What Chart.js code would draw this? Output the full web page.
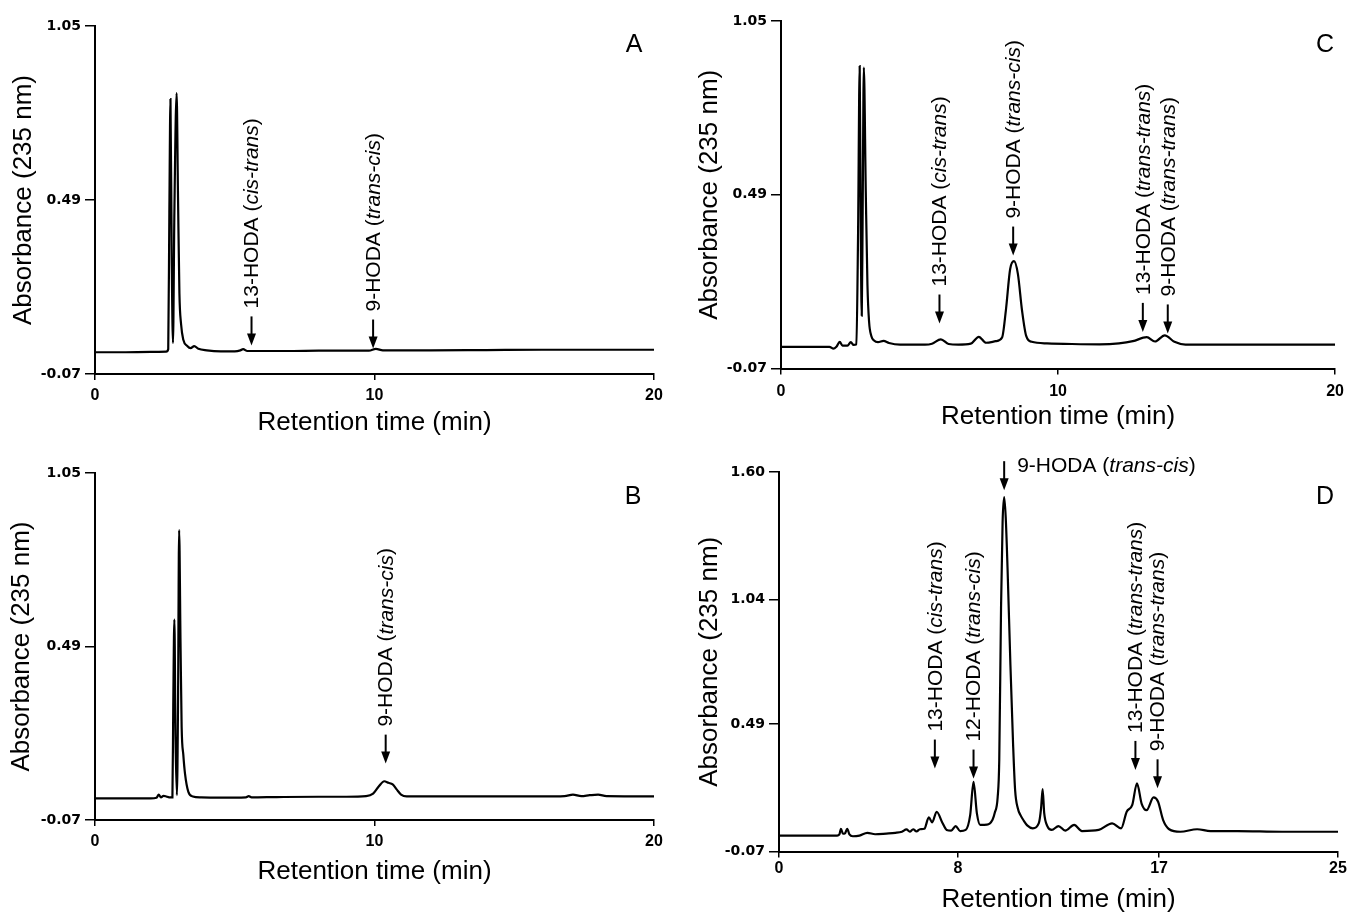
<!DOCTYPE html>
<html>
<head>
<meta charset="utf-8">
<script src="https://cdn.jsdelivr.net/npm/chart.js@4.4.1/dist/chart.umd.min.js"></script>
<style>
  body { margin: 0; background: #fff; width: 1351px; height: 913px; position: relative; overflow: hidden; }
  canvas { position: absolute; }
</style>
</head>
<body>
<canvas id="chartA" width="676" height="450" style="left:0px;top:0px"></canvas>
<canvas id="chartC" width="675" height="450" style="left:676px;top:0px"></canvas>
<canvas id="chartB" width="676" height="463" style="left:0px;top:450px"></canvas>
<canvas id="chartD" width="675" height="463" style="left:676px;top:450px"></canvas>
<script>
// retention time (min) / absorbance at 235 nm
const timeA = [0, 1.0, 2.0, 2.55, 2.62, 2.66, 2.70, 2.745, 2.79, 2.84, 2.92, 2.97, 3.02, 3.08, 3.16, 3.3, 3.42, 3.55, 3.7, 4.0, 4.5, 5.0, 5.2, 5.3, 5.45, 6.0, 7.0, 8.0, 9.0, 9.8, 10.05, 10.3, 12.0, 14.0, 16.0, 18.0, 20.0];
const absA  = [0, 0, 0.001, 0.002, 0.01, 0.45, 0.815, 0.3, 0.03, 0.45, 0.834, 0.5, 0.19, 0.09, 0.04, 0.02, 0.013, 0.02, 0.011, 0.006, 0.003, 0.003, 0.006, 0.01, 0.004, 0.004, 0.004, 0.005, 0.005, 0.005, 0.011, 0.006, 0.006, 0.007, 0.008, 0.008, 0.008];

const timeB = [0, 1.0, 2.0, 2.2, 2.28, 2.36, 2.45, 2.55, 2.65, 2.77, 2.8, 2.84, 2.88, 2.93, 2.97, 3.01, 3.06, 3.1, 3.16, 3.22, 3.34, 3.5, 3.8, 4.5, 5.4, 5.5, 5.6, 6.5, 8.0, 9.0, 9.7, 9.95, 10.15, 10.35, 10.5, 10.65, 10.8, 10.95, 11.15, 12.0, 14.0, 16.0, 16.8, 17.1, 17.4, 17.7, 18.0, 18.3, 20.0];
const absB  = [0, 0, 0, 0.002, 0.012, 0.003, 0.008, 0.006, 0.003, 0.003, 0.3, 0.577, 0.2, 0.01, 0.3, 0.866, 0.5, 0.23, 0.14, 0.08, 0.021, 0.006, 0.003, 0.002, 0.003, 0.007, 0.003, 0.004, 0.005, 0.005, 0.007, 0.015, 0.038, 0.055, 0.05, 0.045, 0.028, 0.012, 0.006, 0.006, 0.006, 0.006, 0.007, 0.012, 0.007, 0.01, 0.012, 0.007, 0.006];

const timeC = [0, 1.0, 1.75, 1.88, 2.0, 2.12, 2.22, 2.4, 2.52, 2.62, 2.72, 2.78, 2.84, 2.885, 2.915, 2.945, 2.99, 3.06, 3.12, 3.18, 3.26, 3.36, 3.5, 3.7, 3.9, 4.3, 4.8, 5.2, 5.45, 5.77, 6.05, 6.4, 6.85, 7.14, 7.4, 7.75, 7.98, 8.12, 8.27, 8.41, 8.55, 8.7, 8.85, 9.05, 9.6, 10.5, 11.5, 12.2, 12.7, 13.2, 13.5, 13.85, 14.2, 14.6, 16.0, 18.0, 20.0];
const absC  = [0, 0, 0, -0.006, 0, 0.016, 0.004, 0.004, 0.015, 0.006, 0.008, 0.35, 0.905, 0.3, 0.1, 0.4, 0.90, 0.5, 0.2, 0.08, 0.035, 0.02, 0.015, 0.019, 0.012, 0.007, 0.007, 0.007, 0.01, 0.024, 0.009, 0.007, 0.01, 0.032, 0.013, 0.018, 0.03, 0.12, 0.25, 0.276, 0.235, 0.117, 0.035, 0.016, 0.011, 0.009, 0.008, 0.011, 0.018, 0.031, 0.017, 0.037, 0.016, 0.007, 0.007, 0.007, 0.007];

const timeD = [0, 1.5, 2.6, 2.7, 2.77, 2.86, 2.95, 3.05, 3.15, 3.3, 3.6, 3.95, 4.3, 4.8, 5.2, 5.5, 5.7, 5.85, 6.0, 6.15, 6.3, 6.5, 6.7, 6.85, 7.05, 7.3, 7.5, 7.7, 7.9, 8.1, 8.35, 8.55, 8.7, 8.85, 9.0, 9.3, 9.55, 9.65, 9.78, 9.85, 9.93, 10.0, 10.07, 10.14, 10.22, 10.35, 10.47, 10.56, 10.68, 10.8, 10.95, 11.1, 11.35, 11.62, 11.72, 11.79, 11.86, 12.0, 12.2, 12.5, 12.8, 13.2, 13.55, 14.3, 14.9, 15.3, 15.55, 15.8, 16.01, 16.22, 16.44, 16.75, 16.95, 17.18, 17.45, 17.95, 18.7, 19.3, 20.5, 22.5, 25.0];
const absD  = [0, 0, 0, 0.005, 0.03, 0.008, 0.01, 0.03, 0.005, -0.003, 0, 0.012, 0.006, 0.009, 0.012, 0.017, 0.027, 0.017, 0.028, 0.018, 0.028, 0.03, 0.08, 0.058, 0.105, 0.058, 0.025, 0.022, 0.042, 0.02, 0.025, 0.09, 0.236, 0.098, 0.047, 0.048, 0.07, 0.10, 0.17, 0.33, 1.0, 1.38, 1.49, 1.40, 1.18, 0.75, 0.40, 0.2, 0.12, 0.09, 0.065, 0.045, 0.032, 0.055, 0.12, 0.205, 0.1, 0.042, 0.025, 0.042, 0.022, 0.047, 0.02, 0.025, 0.054, 0.032, 0.105, 0.135, 0.23, 0.14, 0.112, 0.168, 0.15, 0.068, 0.028, 0.017, 0.028, 0.02, 0.02, 0.017, 0.017];

// arrowed peak labels: time of arrow, absorbance at arrow tip, compound, isomer
const peakTimeA = [5.6, 9.95];
const peakTipA  = [0.022, 0.012];
const peakNameA = ['13-HODA', '9-HODA'];
const peakIsoA  = ['cis-trans', 'trans-cis'];

const peakTimeB = [10.4];
const peakTipB  = [0.112];
const peakNameB = ['9-HODA'];
const peakIsoB  = ['trans-cis'];

const peakTimeC = [5.72, 8.38, 13.06, 13.96];
const peakTipC  = [0.075, 0.294, 0.048, 0.043];
const peakNameC = ['13-HODA', '9-HODA', '13-HODA', '9-HODA'];
const peakIsoC  = ['cis-trans', 'trans-cis', 'trans-trans', 'trans-trans'];

const peakTimeD = [6.97, 8.7, 10.07, 15.94, 16.93];
const peakTipD  = [0.295, 0.251, 1.52, 0.289, 0.208];
const peakNameD = ['13-HODA', '12-HODA', '9-HODA', '13-HODA', '9-HODA'];
const peakIsoD  = ['cis-trans', 'trans-cis', 'trans-cis', 'trans-trans', 'trans-trans'];
const peakFlatD = [false, false, true, false, false];

// tick labels
const xTicks20 = [0, 10, 20];
const xTicksD  = [0, 8, 17, 25];
const yTicks105 = [-0.07, 0.49, 1.05];
const yTicksD   = [-0.07, 0.49, 1.04, 1.60];

const SANS = '"Liberation Sans", Arial, Helvetica, sans-serif';
Chart.defaults.color = '#000';

// arrows + rotated compound labels + panel letter
const peakLabels = {
  id: 'peakLabels',
  afterDatasetsDraw(chart, args, o) {
    const { ctx, scales: { x, y } } = chart;
    ctx.save();
    ctx.fillStyle = '#000';
    ctx.strokeStyle = '#000';
    o.times.forEach((t, i) => {
      const px = x.getPixelForValue(t);
      const tip = y.getPixelForValue(o.tips[i]);
      const tail = tip - 29;
      ctx.lineWidth = 2;
      ctx.beginPath();
      ctx.moveTo(px, tail);
      ctx.lineTo(px, tip - 9);
      ctx.stroke();
      ctx.beginPath();
      ctx.moveTo(px - 4.5, tip - 12);
      ctx.lineTo(px + 4.5, tip - 12);
      ctx.lineTo(px, tip);
      ctx.closePath();
      ctx.fill();

      const parts = [[o.names[i] + ' (', ''], [o.isos[i], 'italic '], [')', '']];
      ctx.textBaseline = 'middle';
      ctx.textAlign = 'left';
      ctx.save();
      if (o.flat && o.flat[i]) {
        ctx.translate(px + 13, tail + 5);
      } else {
        ctx.translate(px + 1, tail - 8);
        ctx.rotate(-Math.PI / 2);
      }
      let cx = 0;
      parts.forEach(([txt, style]) => {
        ctx.font = style + '21px ' + SANS;
        ctx.fillText(txt, cx, 0);
        cx += ctx.measureText(txt).width;
      });
      ctx.restore();
    });
    ctx.font = '25px ' + SANS;
    ctx.textAlign = 'center';
    ctx.textBaseline = 'middle';
    ctx.fillText(o.letter, o.letterX, o.letterY);
    ctx.restore();
  }
};

function drawPanel(id, time, abs, xMax, xTicks, yMax, yTicks, labels, box) {
  const points = time.map((t, i) => ({ x: t, y: abs[i] }));
  return new Chart(document.getElementById(id), {
    type: 'line',
    data: {
      datasets: [{
        data: points,
        borderColor: '#000',
        borderWidth: 2.2,
        pointRadius: 0,
        fill: false,
        cubicInterpolationMode: 'monotone'
      }]
    },
    options: {
      responsive: false,
      animation: false,
      layout: { padding: { left: 0, top: box.top, right: box.right, bottom: 0 } },
      plugins: {
        legend: { display: false },
        tooltip: { enabled: false },
        peakLabels: labels
      },
      scales: {
        x: {
          type: 'linear',
          min: 0,
          max: xMax,
          afterBuildTicks: s => { s.ticks = xTicks.map(v => ({ value: v })); },
          afterFit: s => { s.height = box.xHeight; },
          ticks: {
            autoSkip: false,
            maxRotation: 0,
            padding: box.xTickPad,
            font: { family: SANS, weight: 'bold', size: 16 },
            callback: v => String(v)
          },
          grid: { drawOnChartArea: false, drawTicks: true, tickLength: 6, color: '#000', lineWidth: 1.5 },
          border: { display: true, color: '#000', width: 2 },
          title: {
            display: true,
            text: 'Retention time (min)',
            font: { family: SANS, size: 26, lineHeight: 1 },
            padding: { top: 0, bottom: box.xTitlePad }
          }
        },
        y: {
          type: 'linear',
          min: -0.07,
          max: yMax,
          afterBuildTicks: s => { s.ticks = yTicks.map(v => ({ value: v })); },
          afterFit: s => { s.width = box.yWidth; },
          ticks: {
            autoSkip: false,
            padding: 4,
            font: { family: '"DejaVu Sans", sans-serif', weight: 'bold', size: 14 },
            callback: v => v.toFixed(2)
          },
          grid: { drawOnChartArea: false, drawTicks: true, tickLength: 10, color: '#000', lineWidth: 1.5 },
          border: { display: true, color: '#000', width: 2 },
          title: {
            display: true,
            text: 'Absorbance (235 nm)',
            font: { family: SANS, size: 26, lineHeight: 1 },
            padding: { top: box.yTitlePad, bottom: 0 }
          }
        }
      }
    },
    plugins: [peakLabels]
  });
}

drawPanel('chartA', timeA, absA, 20, xTicks20, 1.05, yTicks105,
  { times: peakTimeA, tips: peakTipA, names: peakNameA, isos: peakIsoA, letter: 'A', letterX: 634, letterY: 45 },
  { yWidth: 95, xHeight: 76, top: 26, right: 22, yTitlePad: 11, xTitlePad: 14.5, xTickPad: 6 });

drawPanel('chartC', timeC, absC, 20, xTicks20, 1.05, yTicks105,
  { times: peakTimeC, tips: peakTipC, names: peakNameC, isos: peakIsoC, letter: 'C', letterX: 649, letterY: 45 },
  { yWidth: 105, xHeight: 81.5, top: 21, right: 11, yTitlePad: 21, xTitlePad: 20, xTickPad: 7 });

drawPanel('chartB', timeB, absB, 20, xTicks20, 1.05, yTicks105,
  { times: peakTimeB, tips: peakTipB, names: peakNameB, isos: peakIsoB, letter: 'B', letterX: 633, letterY: 47 },
  { yWidth: 95, xHeight: 93, top: 23, right: 22, yTitlePad: 9, xTitlePad: 28.6, xTickPad: 6 });

drawPanel('chartD', timeD, absD, 25, xTicksD, 1.60, yTicksD,
  { times: peakTimeD, tips: peakTipD, names: peakNameD, isos: peakIsoD, flat: peakFlatD, letter: 'D', letterX: 649, letterY: 47 },
  { yWidth: 103, xHeight: 61.5, top: 22, right: 13, yTitlePad: 21, xTitlePad: 0.5, xTickPad: 1 });
</script>
</body>
</html>
